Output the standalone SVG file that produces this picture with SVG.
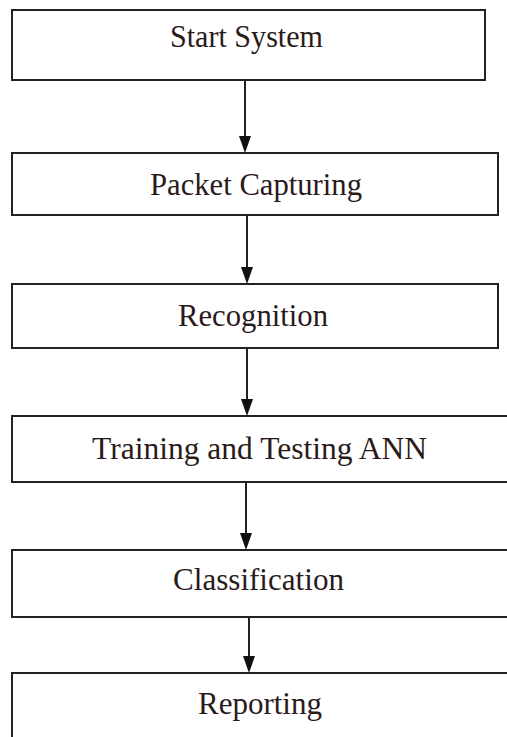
<svg xmlns="http://www.w3.org/2000/svg" width="507" height="737" viewBox="0 0 507 737">
<style>
.box{fill:#fff;stroke:#222;stroke-width:2}
.lbl{font-family:"Liberation Serif","Times New Roman",serif;font-size:31px;fill:#2a1a1a;text-anchor:middle}
.con{stroke:#222;stroke-width:2;fill:none}
.head{fill:#111}
</style>
<rect width="507" height="737" fill="#fff"/>
<g id="n1"><rect class="box" x="12" y="10" width="473" height="70"/><text class="lbl" x="246.5" y="47" textLength="153" lengthAdjust="spacingAndGlyphs">Start System</text></g>
<g id="n2"><rect class="box" x="12" y="153" width="486" height="62"/><text class="lbl" x="256" y="195" textLength="212" lengthAdjust="spacingAndGlyphs">Packet Capturing</text></g>
<g id="n3"><rect class="box" x="12" y="284" width="486" height="64"/><text class="lbl" x="253" y="326" textLength="150" lengthAdjust="spacingAndGlyphs">Recognition</text></g>
<g id="n4"><rect class="box" x="12" y="416" width="500" height="66"/><text class="lbl" x="259.5" y="459" textLength="335" lengthAdjust="spacingAndGlyphs">Training and Testing ANN</text></g>
<g id="n5"><rect class="box" x="12" y="550" width="500" height="67"/><text class="lbl" x="258.5" y="590" textLength="171" lengthAdjust="spacingAndGlyphs">Classification</text></g>
<g id="n6"><rect class="box" x="12" y="673" width="500" height="70"/><text class="lbl" x="260" y="714" textLength="124" lengthAdjust="spacingAndGlyphs">Reporting</text></g>
<g id="connectors">
<line class="con" x1="245" y1="81" x2="245" y2="138"/>
<polygon class="head" points="239,136 251,136 245,153"/>
<line class="con" x1="247" y1="216" x2="247" y2="269"/>
<polygon class="head" points="241,267 253,267 247,284"/>
<line class="con" x1="247" y1="349" x2="247" y2="401"/>
<polygon class="head" points="241,399 253,399 247,416"/>
<line class="con" x1="246" y1="483" x2="246" y2="535"/>
<polygon class="head" points="240,533 252,533 246,550"/>
<line class="con" x1="249" y1="618" x2="249" y2="658"/>
<polygon class="head" points="243,656 255,656 249,673"/>
</g>
</svg>
